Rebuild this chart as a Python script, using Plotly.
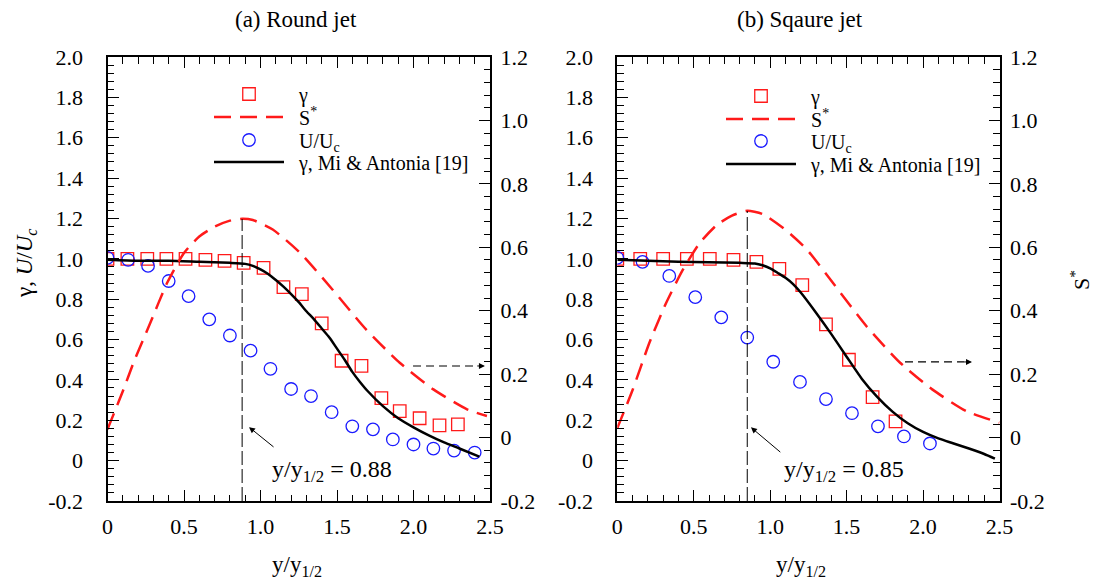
import plotly.graph_objects as go

# ---------------- data: (a) Round jet ----------------
gamma_round_x = [0.0, 0.13, 0.26, 0.385, 0.51, 0.64, 0.765, 0.89, 1.02, 1.15, 1.27, 1.40, 1.53, 1.66, 1.79, 1.91, 2.04, 2.17, 2.29]
gamma_round_y = [1.0, 1.0, 1.0, 1.0, 1.0, 0.995, 0.99, 0.98, 0.955, 0.86, 0.825, 0.68, 0.495, 0.47, 0.31, 0.245, 0.21, 0.175, 0.18]

u_round_x = [0.0, 0.135, 0.265, 0.40, 0.53, 0.665, 0.80, 0.935, 1.065, 1.20, 1.33, 1.465, 1.60, 1.735, 1.865, 2.0, 2.13, 2.265, 2.40]
u_round_y = [1.005, 0.995, 0.965, 0.89, 0.815, 0.70, 0.62, 0.545, 0.455, 0.355, 0.32, 0.24, 0.17, 0.155, 0.105, 0.08, 0.06, 0.05, 0.04]

sstar_round_x = [0.0, 0.1, 0.17, 0.28, 0.39, 0.5, 0.6, 0.7, 0.8, 0.88, 0.95, 1.08, 1.26, 1.47, 1.69, 1.91, 2.13, 2.35, 2.48]
sstar_round_y = [0.026, 0.146, 0.236, 0.362, 0.488, 0.582, 0.634, 0.665, 0.684, 0.69, 0.686, 0.656, 0.582, 0.467, 0.341, 0.236, 0.152, 0.089, 0.068]

mi_round_x = [0.0, 0.2, 0.4, 0.6, 0.8, 0.9, 0.95, 1.0, 1.05, 1.1, 1.15, 1.2, 1.25, 1.3, 1.35, 1.4, 1.45, 1.5, 1.55, 1.6, 1.65, 1.7, 1.8, 1.9, 2.0, 2.1, 2.2, 2.3, 2.43]
mi_round_y = [0.995, 0.99, 0.99, 0.985, 0.98, 0.975, 0.965, 0.948, 0.925, 0.895, 0.862, 0.825, 0.785, 0.74, 0.70, 0.655, 0.61, 0.555, 0.50, 0.44, 0.39, 0.345, 0.27, 0.21, 0.165, 0.125, 0.09, 0.06, 0.02]

# ---------------- data: (b) Square jet ----------------
gamma_sq_x = [0.0, 0.15, 0.30, 0.455, 0.605, 0.76, 0.91, 1.06, 1.21, 1.365, 1.515, 1.67, 1.82]
gamma_sq_y = [1.0, 1.0, 1.0, 1.0, 1.0, 0.995, 0.985, 0.95, 0.87, 0.675, 0.50, 0.315, 0.195]

u_sq_x = [0.0, 0.165, 0.34, 0.51, 0.68, 0.85, 1.02, 1.195, 1.365, 1.535, 1.705, 1.875, 2.045]
u_sq_y = [1.005, 0.985, 0.915, 0.81, 0.71, 0.61, 0.49, 0.39, 0.305, 0.235, 0.17, 0.12, 0.085]

sstar_sq_x = [0.0, 0.1, 0.21, 0.32, 0.43, 0.54, 0.65, 0.75, 0.85, 0.95, 1.1, 1.24, 1.41, 1.63, 1.85, 2.06, 2.28, 2.5]
sstar_sq_y = [0.03, 0.15, 0.299, 0.425, 0.53, 0.614, 0.67, 0.70, 0.715, 0.705, 0.655, 0.593, 0.488, 0.351, 0.236, 0.152, 0.084, 0.047]

mi_sq_x = [0.0, 0.2, 0.4, 0.6, 0.8, 0.9, 0.95, 1.0, 1.05, 1.1, 1.15, 1.2, 1.3, 1.4, 1.5, 1.6, 1.7, 1.8, 1.9, 2.0, 2.1, 2.2, 2.3, 2.4, 2.47]
mi_sq_y = [0.995, 0.99, 0.985, 0.983, 0.98, 0.977, 0.968, 0.953, 0.93, 0.906, 0.875, 0.833, 0.733, 0.627, 0.515, 0.405, 0.316, 0.243, 0.185, 0.142, 0.11, 0.085, 0.06, 0.033, 0.01]

# half-width markers
half_round = 0.88
half_sq = 0.85

# tick labels
x_ticks = [0, 0.5, 1.0, 1.5, 2.0, 2.5]
x_ticktext = ["0", "0.5", "1.0", "1.5", "2.0", "2.5"]
yl_ticks = [-0.2, 0, 0.2, 0.4, 0.6, 0.8, 1.0, 1.2, 1.4, 1.6, 1.8, 2.0]
yl_ticktext = ["-0.2", "0", "0.2", "0.4", "0.6", "0.8", "1.0", "1.2", "1.4", "1.6", "1.8", "2.0"]
yr_ticks = [-0.2, 0, 0.2, 0.4, 0.6, 0.8, 1.0, 1.2]
yr_ticktext = ["-0.2", "0", "0.2", "0.4", "0.6", "0.8", "1.0", "1.2"]

series_names = ["γ", "S<sup>*</sup>", "U/U<sub>c</sub>", "γ, Mi & Antonia [19]"]

FONT = "Liberation Serif, Times New Roman, Times, serif"
RED = "#ff1a1a"
BLUE = "#1a1aff"
PAD = "\u2002"  # small gap between legend symbol and legend text

W, H = 1094, 583
def px_x(p): return p / W
def px_y(p): return (H - p) / H

fig = go.Figure()

def add_panel(xa, ya, ya2, legs, gx, gy, ux, uy, sx, sy, mx, my):
    fig.add_trace(go.Scatter(x=gx, y=gy, mode="markers", name=PAD + series_names[0], xaxis=xa, yaxis=ya, legend=legs[0],
                             marker=dict(symbol="square-open", size=12.5, color=RED, line=dict(width=1.3))))
    fig.add_trace(go.Scatter(x=sx, y=sy, mode="lines", name=PAD + series_names[1], xaxis=xa, yaxis=ya2, legend=legs[1],
                             line=dict(color=RED, width=2.5, dash="17px,9px", shape="spline", smoothing=0.6)))
    fig.add_trace(go.Scatter(x=ux, y=uy, mode="markers", name=PAD + series_names[2], xaxis=xa, yaxis=ya, legend=legs[2],
                             marker=dict(symbol="circle-open", size=12.5, color=BLUE, line=dict(width=1.3))))
    fig.add_trace(go.Scatter(x=mx, y=my, mode="lines", name=PAD + series_names[3], xaxis=xa, yaxis=ya, legend=legs[3],
                             line=dict(color="black", width=2.5, shape="spline", smoothing=0.6)))

add_panel("x", "y", "y2", ["legend", "legend2", "legend3", "legend4"], gamma_round_x, gamma_round_y,
          u_round_x, u_round_y, sstar_round_x, sstar_round_y, mi_round_x, mi_round_y)
add_panel("x2", "y3", "y4", ["legend5", "legend6", "legend7", "legend8"], gamma_sq_x, gamma_sq_y,
          u_sq_x, u_sq_y, sstar_sq_x, sstar_sq_y, mi_sq_x, mi_sq_y)

tickfont = dict(family=FONT, size=22, color="black")
ydom = [px_y(501), px_y(57)]

def xaxis_cfg(dom, anchor):
    return dict(domain=dom, anchor=anchor, range=[0, 2.5], tickmode="array", tickvals=x_ticks, ticktext=x_ticktext,
                ticks="inside", ticklen=11, tickwidth=1.3, tickcolor="black", showline=True, linecolor="black",
                linewidth=2, mirror="ticks", showgrid=False, zeroline=False, tickfont=tickfont,
                ticklabelstandoff=5, automargin=False,
                minor=dict(ticks="inside", dtick=0.1, ticklen=6.5, tickwidth=1.3, tickcolor="black", showgrid=False))

def yaxis_cfg(anchor, rng, tv, tt, side, overlay=None):
    d = dict(domain=ydom, anchor=anchor, range=rng, tickmode="array", tickvals=tv, ticktext=tt, side=side,
             ticks="inside", ticklen=11, tickwidth=1.3, tickcolor="black", showline=True, linecolor="black",
             linewidth=2, showgrid=False, zeroline=False, tickfont=tickfont,
             ticklabelstandoff=(4 if side == "right" else 18),
             automargin=False,
             minor=dict(ticks="inside", dtick=0.04, tick0=0, ticklen=6.5, tickwidth=1.3, tickcolor="black", showgrid=False))
    if overlay:
        d["overlaying"] = overlay
    return d

x1dom = [px_x(107.5), px_x(490)]
x2dom = [px_x(617.3), px_x(999.5)]

legfont = dict(family=FONT, size=20, color="black")
def leg(xpx, ypx):
    return dict(x=px_x(xpx), y=px_y(ypx), xanchor="left", yanchor="middle", bgcolor="rgba(0,0,0,0)",
                font=legfont, itemwidth=70, tracegroupgap=0)

fig.update_layout(
    width=W, height=H,
    margin=dict(l=0, r=0, t=0, b=0, autoexpand=False),
    paper_bgcolor="white", plot_bgcolor="white",
    font=dict(family=FONT, color="black"),
    xaxis=xaxis_cfg(x1dom, "y"),
    xaxis2=xaxis_cfg(x2dom, "y3"),
    yaxis=yaxis_cfg("x", [-0.2, 2.0], yl_ticks, yl_ticktext, "left"),
    yaxis2=yaxis_cfg("x", [-0.2, 1.2], yr_ticks, yr_ticktext, "right", overlay="y"),
    yaxis3=yaxis_cfg("x2", [-0.2, 2.0], yl_ticks, yl_ticktext, "left"),
    yaxis4=yaxis_cfg("x2", [-0.2, 1.2], yr_ticks, yr_ticktext, "right", overlay="y3"),
    legend=leg(209, 94), legend2=leg(209, 117), legend3=leg(209, 140), legend4=leg(209, 162),
    legend5=leg(721, 96), legend6=leg(721, 119), legend7=leg(721, 141), legend8=leg(721, 164),
    showlegend=True,
)

shapes = []
anns = []

def panel_marks(xa, ya, half, peak, tail, head, label_pos, harrow):
    # vertical dashed line at y/y1/2
    shapes.append(dict(type="line", xref=xa, yref=ya, x0=half, x1=half, y0=-0.2, y1=peak,
                       line=dict(color="black", width=1, dash="14px,4px")))
    # slanted arrow to the line
    anns.append(dict(xref=xa, yref=ya, axref=xa, ayref=ya, x=head[0], y=head[1], ax=tail[0], ay=tail[1],
                     text="", showarrow=True, arrowhead=2, arrowsize=1.2, arrowwidth=1, arrowcolor="black",
                     standoff=0, startstandoff=0))
    anns.append(dict(xref=xa, yref=ya, x=label_pos[0], y=label_pos[1], xanchor="left", yanchor="middle",
                     text="y/y<sub>1/2</sub> = %.2f" % half, showarrow=False,
                     font=dict(family=FONT, size=24, color="black")))
    # dashed horizontal arrow pointing to the right axis
    (x0, x1, yh) = harrow
    shapes.append(dict(type="line", xref=xa, yref=ya, x0=x0, x1=x1 - 0.05, y0=yh, y1=yh,
                       line=dict(color="black", width=1.2, dash="8px,5px")))
    anns.append(dict(xref=xa, yref=ya, axref=xa, ayref=ya, x=x1, y=yh, ax=x1 - 0.06, ay=yh,
                     text="", showarrow=True, arrowhead=2, arrowsize=1.2, arrowwidth=1, arrowcolor="black",
                     standoff=0, startstandoff=0))

panel_marks("x", "y", half_round, 1.197, (1.095, 0.062), (0.925, 0.166), (1.06, -0.05), (1.997, 2.467, 0.469))
panel_marks("x2", "y3", half_sq, 1.237, (1.076, 0.036), (0.874, 0.165), (1.075, -0.05), (1.882, 2.32, 0.489))

# titles
anns.append(dict(xref="paper", yref="paper", x=px_x(296), y=px_y(19), text="(a) Round jet", showarrow=False,
                 xanchor="center", yanchor="middle", font=dict(family=FONT, size=23, color="black")))
anns.append(dict(xref="paper", yref="paper", x=px_x(800), y=px_y(19), text="(b) Sqaure jet", showarrow=False,
                 xanchor="center", yanchor="middle", font=dict(family=FONT, size=23, color="black")))
# x axis titles
for cx in (297, 801):
    anns.append(dict(xref="paper", yref="paper", x=px_x(cx), y=px_y(566), text="y/y<sub>1/2</sub>", showarrow=False,
                     xanchor="center", yanchor="middle", font=dict(family=FONT, size=23, color="black")))
# y axis titles
anns.append(dict(xref="paper", yref="paper", x=px_x(26), y=px_y(264), text="γ, <i>U</i>/<i>U<sub>c</sub></i>",
                 textangle=-90, showarrow=False, xanchor="center", yanchor="middle",
                 font=dict(family=FONT, size=23, color="black")))
anns.append(dict(xref="paper", yref="paper", x=px_x(1080), y=px_y(280), text="S<sup>*</sup>",
                 textangle=-90, showarrow=False, xanchor="center", yanchor="middle",
                 font=dict(family=FONT, size=22, color="black")))

fig.update_layout(shapes=shapes, annotations=anns)
fig.write_html("out.html", config={"displayModeBar": False},
               post_script="document.body.style.margin='0';")
